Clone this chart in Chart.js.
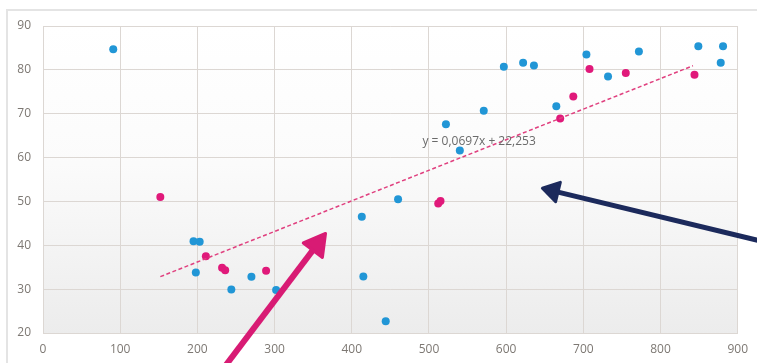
<!DOCTYPE html>
<html>
<head>
<meta charset="utf-8">
<script src="https://cdn.jsdelivr.net/npm/chart.js@4/dist/chart.umd.min.js"></script>
<style>
  html, body { margin: 0; padding: 0; background: #ffffff; }
  #wrap { width: 757px; height: 363px; position: relative; }
</style>
</head>
<body>
<div id="wrap"><canvas id="c" width="757" height="363"></canvas></div>
<script>
// Series A (blue) and series B (pink) measurements
const blueX = [91, 195, 203, 198, 244, 270, 302, 413, 415, 444, 460, 522, 540, 571, 597, 622, 636, 665, 704, 732, 772, 849, 881, 878];
const blueY = [84.7, 40.9, 40.8, 33.8, 29.9, 32.8, 29.8, 46.5, 32.9, 22.7, 50.5, 67.6, 61.6, 70.7, 80.7, 81.6, 81.0, 71.7, 83.5, 78.5, 84.2, 85.4, 85.4, 81.6];
const pinkX = [152, 211, 232, 236, 289, 512, 515, 670, 687, 708, 755, 844];
const pinkY = [51.0, 37.5, 34.9, 34.3, 34.2, 49.5, 50.1, 68.9, 73.9, 80.2, 79.3, 78.9];

// Linear trend of series B
const trendSlope = 0.0697;
const trendIntercept = 22.253;
const trendRange = [152, 842];
const trendLabel = 'y = 0,0697x + 22,253';

// Axis ticks
const xTicks = [0, 100, 200, 300, 400, 500, 600, 700, 800, 900];
const yTicks = [20, 30, 40, 50, 60, 70, 80, 90];

const toPoints = (xs, ys) => xs.map((x, i) => ({ x: x, y: ys[i] }));
const trendPoints = trendRange.map(x => ({ x: x, y: trendSlope * x + trendIntercept }));

// Call-out arrows, given in data units (tail -> head)
const arrows = [
  { from: [222, 9.2], to: [366, 42.7], color: '#d81b74', width: 6, head: 21, headW: 12 },
  { from: [955, 39.9], to: [647, 53.0], color: '#1c2a5c', width: 5, head: 16, headW: 10 }
];

const blue = '#2196d6';
const pink = '#e0197a';

const backdrop = {
  id: 'backdrop',
  beforeDraw(chart) {
    const { ctx, chartArea: a } = chart;
    ctx.save();
    // outer frame
    ctx.strokeStyle = '#e4e4e4';
    ctx.lineWidth = 2;
    ctx.beginPath();
    ctx.moveTo(7, 363);
    ctx.lineTo(7, 10);
    ctx.lineTo(757, 10);
    ctx.stroke();
    // plot area shading
    const g = ctx.createLinearGradient(0, a.top, 0, a.bottom);
    g.addColorStop(0, '#ffffff');
    g.addColorStop(0.45, '#fbfbfb');
    g.addColorStop(1, '#ececec');
    ctx.fillStyle = g;
    ctx.fillRect(a.left, a.top, a.right - a.left, a.bottom - a.top);
    ctx.restore();
  }
};

const overlay = {
  id: 'overlay',
  afterDatasetsDraw(chart) {
    const { ctx } = chart;
    const xs = chart.scales.x, ys = chart.scales.y;
    ctx.save();
    // trend equation
    ctx.font = '12px "Open Sans", sans-serif';
    ctx.fillStyle = '#6a6a6a';
    ctx.textAlign = 'center';
    ctx.textBaseline = 'middle';
    ctx.fillText(trendLabel, xs.getPixelForValue(565), ys.getPixelForValue(63.7));
    // arrows
    arrows.forEach(a => {
      const x0 = xs.getPixelForValue(a.from[0]), y0 = ys.getPixelForValue(a.from[1]);
      const x1 = xs.getPixelForValue(a.to[0]), y1 = ys.getPixelForValue(a.to[1]);
      const ang = Math.atan2(y1 - y0, x1 - x0);
      const bx = x1 - Math.cos(ang) * a.head, by = y1 - Math.sin(ang) * a.head;
      ctx.strokeStyle = a.color;
      ctx.fillStyle = a.color;
      ctx.lineWidth = a.width;
      ctx.lineCap = 'butt';
      ctx.beginPath();
      ctx.moveTo(x0, y0);
      ctx.lineTo(bx + Math.cos(ang) * 2, by + Math.sin(ang) * 2);
      ctx.stroke();
      const px = -Math.sin(ang), py = Math.cos(ang);
      ctx.lineJoin = 'round';
      ctx.lineWidth = 3;
      ctx.beginPath();
      ctx.moveTo(x1, y1);
      ctx.lineTo(bx + px * a.headW, by + py * a.headW);
      ctx.lineTo(bx - px * a.headW, by - py * a.headW);
      ctx.closePath();
      ctx.fill();
      ctx.stroke();
    });
    ctx.restore();
  }
};

new Chart(document.getElementById('c'), {
  type: 'scatter',
  data: {
    datasets: [
      {
        type: 'line',
        data: trendPoints,
        borderColor: '#e0407f',
        borderWidth: 1.5,
        borderDash: [4, 2.5],
        pointRadius: 0,
        fill: false,
        order: 0
      },
      {
        data: toPoints(blueX, blueY),
        backgroundColor: blue,
        borderColor: blue,
        borderWidth: 0,
        pointRadius: 4,
        order: 2
      },
      {
        data: toPoints(pinkX, pinkY),
        backgroundColor: pink,
        borderColor: pink,
        borderWidth: 0,
        pointRadius: 4,
        order: 1
      }
    ]
  },
  options: {
    responsive: false,
    animation: false,
    layout: { padding: { top: 26, right: 19, bottom: 0, left: 0 } },
    plugins: { legend: { display: false }, tooltip: { enabled: false } },
    scales: {
      x: {
        type: 'linear',
        min: 0, max: 900,
        afterFit(s) { s.height = 30; },
        afterBuildTicks(s) { s.ticks = xTicks.map(v => ({ value: v })); },
        grid: { color: '#dcd7d3', lineWidth: 1, drawTicks: false },
        border: { color: '#dcd7d3' },
        ticks: { padding: 9, color: '#7d7873', font: { family: '"Open Sans", sans-serif', size: 12 } }
      },
      y: {
        type: 'linear',
        min: 20, max: 90,
        afterFit(s) { s.width = 43; },
        afterBuildTicks(s) { s.ticks = yTicks.map(v => ({ value: v })); },
        grid: { color: '#dcd7d3', lineWidth: 1, drawTicks: false },
        border: { color: '#dcd7d3' },
        ticks: { padding: 12, color: '#7d7873', font: { family: '"Open Sans", sans-serif', size: 12 } }
      }
    }
  },
  plugins: [backdrop, overlay]
});
</script>
</body>
</html>
